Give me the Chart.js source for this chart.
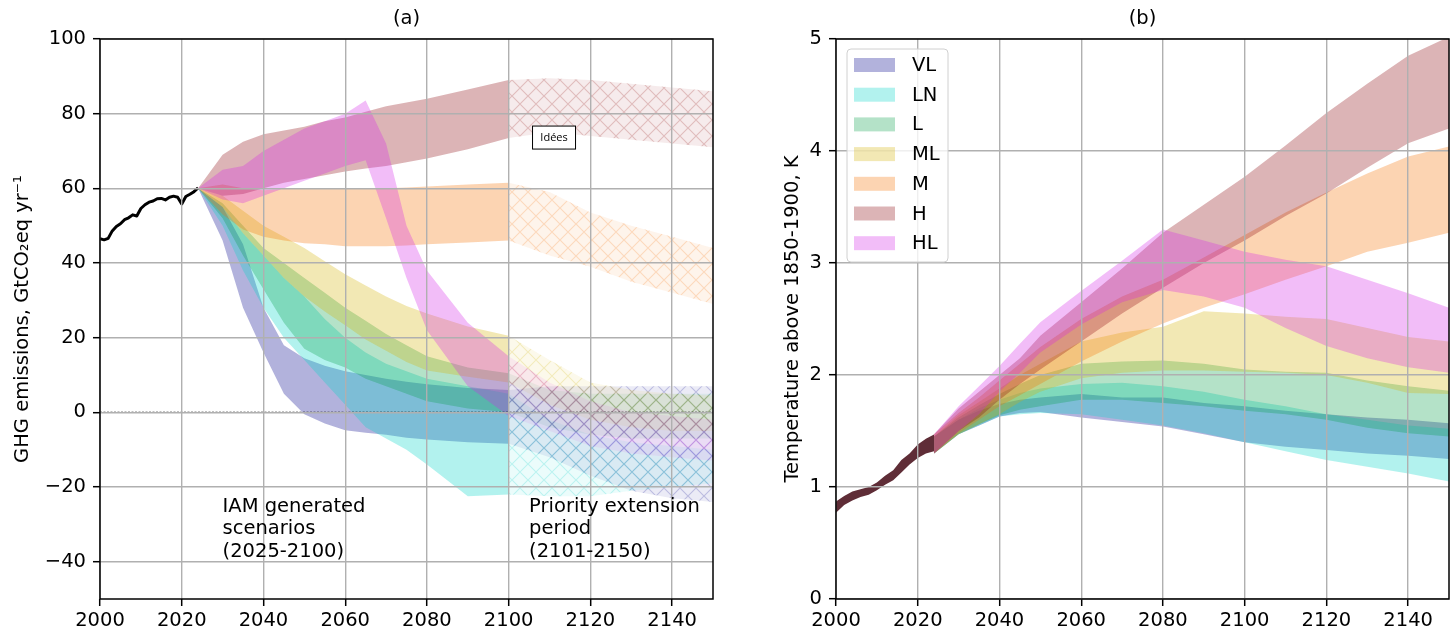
<!DOCTYPE html>
<html>
<head>
<meta charset="utf-8">
<script src="https://cdn.jsdelivr.net/npm/chart.js@4.4.1/dist/chart.umd.min.js"></script>
<style>
  body { margin: 0; background: #fff; }
  #wrap { position: relative; width: 1456px; height: 639px; }
  #wrap canvas { position: absolute; top: 0; }
</style>
</head>
<body>
<div id="wrap">
  <canvas id="chartGhg" width="728" height="639" style="left:0"></canvas>
  <canvas id="chartTemp" width="728" height="639" style="left:728px"></canvas>
</div>
<script>
// ---- data ----
var bandNames = ['VL', 'LN', 'L', 'ML', 'M', 'H', 'HL'];

// (a) historical GHG emissions
var histYears = [2000, 2001, 2002, 2003, 2004, 2005, 2006, 2007, 2008, 2009, 2010, 2011, 2012,
                 2013, 2014, 2015, 2016, 2017, 2018, 2019, 2020, 2021, 2022, 2023, 2024];
var histGhg = [46.5, 46.2, 46.6, 48.6, 49.8, 50.5, 51.6, 52.1, 52.9, 52.6, 54.6, 55.6, 56.3,
               56.6, 57.2, 57.3, 56.9, 57.6, 57.9, 57.6, 55.8, 57.8, 58.4, 59.1, 60.1];

// (a) IAM scenario ranges 2025-2100
var iamYears = [2024, 2030, 2035, 2040, 2045, 2050, 2055, 2060, 2065, 2070, 2075, 2080, 2090, 2100];
var vlGhgLow  = [60, 46, 28, 16, 5, -0.5, -3, -4.8, -5.5, -6, -6.8, -7.3, -8, -8.4];
var vlGhgHigh = [60, 55, 45, 28, 18, 14.5, 12.5, 11, 10, 9, 8.2, 7.5, 6.5, 6];
var lnGhgLow  = [60, 50, 38, 28, 20, 14, 8, 2, -4, -7, -10, -14, -22.5, -22];
var lnGhgHigh = [60, 55, 48, 42, 36, 31, 25, 20, 16, 13, 11, 9, 7, 5];
var lGhgLow   = [60, 52, 42, 33, 24, 17, 14, 12, 9, 7, 5, 3, 1, 0];
var lGhgHigh  = [60, 56, 50, 44, 40, 36, 32, 28, 24.5, 21, 18, 15, 12, 10.5];
var mlGhgLow  = [60, 55, 48, 42, 36, 31, 27, 23.3, 19.5, 16.5, 13.5, 11.2, 9.5, 8];
var mlGhgHigh = [60, 58, 54, 50, 47, 44, 40.5, 37, 34, 31, 28.5, 26.5, 23, 20.5];
var mGhgLow   = [60, 53, 49, 47, 46, 45.3, 45, 44.5, 44.5, 44.5, 44.7, 45, 45.5, 46];
var mGhgHigh  = [60, 61, 60, 59.5, 59.8, 60, 60, 60, 60, 60, 60.2, 60.5, 61, 61.5];
var hGhgLow   = [60, 58, 58.5, 60, 61.5, 62.5, 63.5, 64.5, 65.3, 66, 67, 68, 70.5, 73.5];
var hGhgHigh  = [60, 69, 72.5, 74.5, 75.5, 76.5, 78, 79, 80.5, 82, 83, 84, 86.5, 89];
var hlGhgLow  = [60, 57, 56, 58, 60, 62, 64, 66, 67.5, 52, 36, 22, 7, -1];
var hlGhgHigh = [60, 65, 66, 70, 73, 76, 78, 80, 83.5, 72, 50, 38, 24, 15];

// (a) priority extension 2100-2150 (hatched)
var extYears = [2100, 2110, 2120, 2130, 2140, 2150];
var vlExtLow  = [-8.4, -12, -17, -21, -23, -24];
var vlExtHigh = [6, 7, 7, 7, 7, 7];
var lnExtLow  = [-22, -22.5, -22.5, -21, -20, -19];
var lnExtHigh = [5, -2, -6, -8, -9, -10];
var lExtLow   = [0, -4, -6, -7, -7, -7];
var lExtHigh  = [10.5, 6, 5, 5, 5, 5];
var mlExtLow  = [8, 2, -2, -4, -5, -5];
var mlExtHigh = [20.5, 14, 8, 6, 5, 4.5];
var mExtLow   = [46, 42, 39, 35, 32, 29];
var mExtHigh  = [61.5, 59, 53.5, 50, 47, 44];
var hExtLow   = [73.5, 75, 74, 73, 72, 71];
var hExtHigh  = [89, 89.5, 89, 88, 87, 86];
var hlExtLow  = [-1, -5, -9, -11, -12, -13];
var hlExtHigh = [15, 8, 3, 0, -1, -2];

// (b) historical warming band
var histTempYears = [2000, 2002, 2004, 2006, 2008, 2010, 2012, 2014, 2016, 2018, 2020, 2022, 2024];
var histTempLow  = [0.77, 0.84, 0.88, 0.91, 0.93, 0.97, 1.02, 1.06, 1.13, 1.2, 1.26, 1.3, 1.32];
var histTempHigh = [0.87, 0.92, 0.96, 0.98, 1.0, 1.04, 1.1, 1.15, 1.24, 1.3, 1.38, 1.43, 1.47];

// (b) scenario warming ranges
var tempYears = [2024, 2030, 2035, 2040, 2045, 2050, 2060, 2070, 2080, 2090, 2100, 2110, 2120, 2130, 2140, 2150];
var vlTempLow  = [1.3, 1.47, 1.55, 1.63, 1.66, 1.67, 1.62, 1.58, 1.54, 1.47, 1.4, 1.36, 1.33, 1.3, 1.28, 1.25];
var vlTempHigh = [1.45, 1.6, 1.68, 1.74, 1.78, 1.8, 1.83, 1.8, 1.8, 1.75, 1.72, 1.68, 1.65, 1.62, 1.6, 1.57];
var lnTempLow  = [1.3, 1.47, 1.55, 1.63, 1.65, 1.66, 1.65, 1.6, 1.55, 1.48, 1.4, 1.32, 1.24, 1.18, 1.12, 1.05];
var lnTempHigh = [1.45, 1.6, 1.7, 1.78, 1.84, 1.88, 1.92, 1.93, 1.9, 1.85, 1.78, 1.72, 1.65, 1.6, 1.55, 1.52];
var lTempLow   = [1.3, 1.47, 1.56, 1.64, 1.69, 1.72, 1.78, 1.78, 1.75, 1.72, 1.68, 1.65, 1.6, 1.53, 1.48, 1.45];
var lTempHigh  = [1.45, 1.62, 1.73, 1.83, 1.92, 2.0, 2.1, 2.12, 2.13, 2.1, 2.05, 2.03, 2.02, 1.95, 1.9, 1.86];
var mlTempLow  = [1.3, 1.47, 1.56, 1.65, 1.76, 1.85, 1.97, 2.02, 2.04, 2.04, 2.03, 2.02, 2.0, 1.93, 1.84, 1.83];
var mlTempHigh = [1.45, 1.64, 1.76, 1.88, 2.0, 2.1, 2.3, 2.38, 2.43, 2.57, 2.55, 2.52, 2.5, 2.42, 2.34, 2.3];
var mTempLow   = [1.3, 1.48, 1.6, 1.72, 1.82, 1.92, 2.12, 2.3, 2.46, 2.6, 2.72, 2.85, 2.97, 3.1, 3.18, 3.27];
var mTempHigh  = [1.47, 1.66, 1.8, 1.95, 2.1, 2.25, 2.5, 2.7, 2.85, 3.05, 3.25, 3.45, 3.63, 3.8, 3.95, 4.04];
var hTempLow   = [1.3, 1.5, 1.62, 1.78, 1.92, 2.05, 2.3, 2.55, 2.78, 3.0, 3.2, 3.42, 3.62, 3.85, 4.07, 4.2];
var hTempHigh  = [1.47, 1.7, 1.85, 2.0, 2.15, 2.35, 2.65, 2.95, 3.27, 3.52, 3.77, 4.05, 4.34, 4.6, 4.85, 5.02];
var hlTempLow  = [1.3, 1.5, 1.65, 1.85, 2.02, 2.2, 2.45, 2.65, 2.76, 2.7, 2.6, 2.42, 2.26, 2.15, 2.07, 2.02];
var hlTempHigh = [1.47, 1.72, 1.9, 2.08, 2.28, 2.47, 2.75, 3.02, 3.3, 3.2, 3.1, 3.03, 2.97, 2.85, 2.73, 2.6];

// ---- styling ----
var bandRgb = ['0,0,139', '0,212,198', '5,158,72', '212,178,5', '245,112,0', '138,5,12', '212,38,232'];
var FONT = '"DejaVu Sans", "Liberation Sans", sans-serif';

var ghgLow   = [vlGhgLow, lnGhgLow, lGhgLow, mlGhgLow, mGhgLow, hGhgLow, hlGhgLow];
var ghgHigh  = [vlGhgHigh, lnGhgHigh, lGhgHigh, mlGhgHigh, mGhgHigh, hGhgHigh, hlGhgHigh];
var extLow   = [vlExtLow, lnExtLow, lExtLow, mlExtLow, mExtLow, hExtLow, hlExtLow];
var extHigh  = [vlExtHigh, lnExtHigh, lExtHigh, mlExtHigh, mExtHigh, hExtHigh, hlExtHigh];
var tempLow  = [vlTempLow, lnTempLow, lTempLow, mlTempLow, mTempLow, hTempLow, hlTempLow];
var tempHigh = [vlTempHigh, lnTempHigh, lTempHigh, mlTempHigh, mTempHigh, hTempHigh, hlTempHigh];

Chart.defaults.font.family = FONT;
Chart.defaults.font.size = 19.5;
Chart.defaults.color = '#000';

function pts(xs, ys) {
    return xs.map(function (x, i) { return {x: x, y: ys[i]}; });
}

// lower edge (no fill) followed by upper edge filled down to it
function addBand(list, xs, lo, hi, fillStyle, order) {
    list.push({data: pts(xs, lo), borderColor: 'rgba(0,0,0,0)', borderWidth: 1, fill: false, order: order});
    list.push({data: pts(xs, hi), borderColor: 'rgba(0,0,0,0)', borderWidth: 1, fill: '-1',
               backgroundColor: fillStyle, order: order});
}

function hatch(ctx, rgb) {
    var c = document.createElement('canvas');
    c.width = 16; c.height = 16;
    var g = c.getContext('2d');
    g.fillStyle = 'rgba(' + rgb + ',0.08)';
    g.fillRect(0, 0, 16, 16);
    g.strokeStyle = 'rgba(' + rgb + ',0.2)';
    g.lineWidth = 1.2;
    g.beginPath();
    g.moveTo(-1, -1); g.lineTo(17, 17);
    g.moveTo(17, -1); g.lineTo(-1, 17);
    g.stroke();
    return ctx.createPattern(c, 'repeat');
}

function axes(yMin, yMax, yStep, yTitle, titlePad, yWidth) {
    return {
        x: {
            type: 'linear', min: 2000, max: 2150,
            ticks: {stepSize: 20, includeBounds: false, padding: 3, callback: function (v) { return String(v); }},
            grid: {color: '#b0b0b0', lineWidth: 1.4, tickColor: '#000', tickLength: 7, tickWidth: 1.5, z: 1},
            border: {display: false},
            afterFit: function (s) { s.height = 40; }
        },
        y: {
            type: 'linear', min: yMin, max: yMax,
            ticks: {stepSize: yStep, includeBounds: false, padding: 7,
                    callback: function (v) { return String(v).replace('-', '\u2212'); }},
            grid: {color: '#b0b0b0', lineWidth: 1.4, tickColor: '#000', tickLength: 7, tickWidth: 1.5, z: 1},
            border: {display: false},
            title: {display: true, text: yTitle, padding: {top: titlePad, bottom: 0}},
            afterFit: function (s) { s.width = yWidth; }
        }
    };
}

function decor(title, extra) {
    return {
        id: 'decor',
        afterDraw: function (chart) {
            var ctx = chart.ctx, a = chart.chartArea;
            ctx.save();
            ctx.strokeStyle = '#000';
            ctx.lineWidth = 1.5;
            ctx.strokeRect(a.left, a.top, a.right - a.left, a.bottom - a.top);
            ctx.fillStyle = '#000';
            ctx.font = '19.5px ' + FONT;
            ctx.textAlign = 'center';
            ctx.textBaseline = 'middle';
            ctx.fillText(title, (a.left + a.right) / 2, 19);
            if (extra) extra(chart, ctx);
            ctx.restore();
        }
    };
}

// ---- (a) emissions ----
var ctxA = document.getElementById('chartGhg').getContext('2d');
var setsA = [];
setsA.push({data: pts(histYears, histGhg), borderColor: '#000', borderWidth: 3, borderJoinStyle: 'round', order: 0});
setsA.push({data: [{x: 2000, y: 0}, {x: 2150, y: 0}], borderColor: '#000', borderWidth: 1.1,
            borderDash: [2, 1.5], order: 0});
bandNames.forEach(function (name, i) {
    addBand(setsA, iamYears, ghgLow[i], ghgHigh[i], 'rgba(' + bandRgb[i] + ',0.3)', 20 - i);
});
bandNames.forEach(function (name, i) {
    addBand(setsA, extYears, extLow[i], extHigh[i], hatch(ctxA, bandRgb[i]), 10 - i);
});

function ghgNotes(chart, ctx) {
    var xs = chart.scales.x, ys = chart.scales.y;
    var notes = [
        {x: 2030, lines: ['IAM generated', 'scenarios', '(2025-2100)']},
        {x: 2105, lines: ['Priority extension', 'period', '(2101-2150)']}
    ];
    var base = ys.getPixelForValue(-40);
    ctx.textAlign = 'left';
    notes.forEach(function (n) {
        n.lines.forEach(function (line, i) {
            ctx.fillText(line, xs.getPixelForValue(n.x), base - 10 - (2 - i) * 22.5);
        });
    });
    var bx = xs.getPixelForValue(2111.1), by = ys.getPixelForValue(73.6);
    ctx.fillStyle = '#fff';
    ctx.fillRect(bx - 21.5, by - 11.5, 43, 23);
    ctx.strokeStyle = '#000';
    ctx.lineWidth = 1;
    ctx.strokeRect(bx - 21.5, by - 11.5, 43, 23);
    ctx.fillStyle = '#000';
    ctx.font = '11px "Open Sans", sans-serif';
    ctx.textAlign = 'center';
    ctx.fillText('Id\u00e9es', bx, by);
}

new Chart(ctxA, {
    type: 'line',
    data: {datasets: setsA},
    options: {
        responsive: false,
        animation: false,
        events: [],
        layout: {padding: {left: 0, right: 15, top: 39, bottom: 0}},
        elements: {line: {tension: 0}, point: {radius: 0, hoverRadius: 0}},
        plugins: {legend: {display: false}, tooltip: {enabled: false}},
        scales: axes(-50, 100, 20, 'GHG emissions, GtCO\u2082eq yr\u207b\u00b9', 11, 100)
    },
    plugins: [decor('(a)', ghgNotes)]
});

// ---- (b) temperature ----
var ctxB = document.getElementById('chartTemp').getContext('2d');
var setsB = [];
addBand(setsB, histTempYears, histTempLow, histTempHigh, '#5f2d37', 30);
bandNames.forEach(function (name, i) {
    addBand(setsB, tempYears, tempLow[i], tempHigh[i], 'rgba(' + bandRgb[i] + ',0.3)', 20 - i);
});

function tempLegend(chart, ctx) {
    var a = chart.chartArea;
    var left = a.left + 11, top = a.top + 10, w = 101, h = 213;
    ctx.fillStyle = 'rgba(255,255,255,0.8)';
    ctx.strokeStyle = '#d0d0d0';
    ctx.lineWidth = 1;
    ctx.beginPath();
    ctx.roundRect(left, top, w, h, 4);
    ctx.fill();
    ctx.stroke();
    ctx.textAlign = 'left';
    bandNames.forEach(function (name, i) {
        var cy = top + 16 + i * 29.7;
        ctx.fillStyle = 'rgba(' + bandRgb[i] + ',0.3)';
        ctx.fillRect(left + 7, cy - 7, 41, 14);
        ctx.fillStyle = '#000';
        ctx.fillText(name, left + 65, cy + 1);
    });
}

new Chart(ctxB, {
    type: 'line',
    data: {datasets: setsB},
    options: {
        responsive: false,
        animation: false,
        events: [],
        layout: {padding: {left: 0, right: 7, top: 39, bottom: 0}},
        elements: {line: {tension: 0}, point: {radius: 0, hoverRadius: 0}},
        plugins: {legend: {display: false}, tooltip: {enabled: false}},
        scales: axes(0, 5, 1, 'Temperature above 1850-1900, K', 53, 108)
    },
    plugins: [decor('(b)', tempLegend)]
});
</script>
</body>
</html>
